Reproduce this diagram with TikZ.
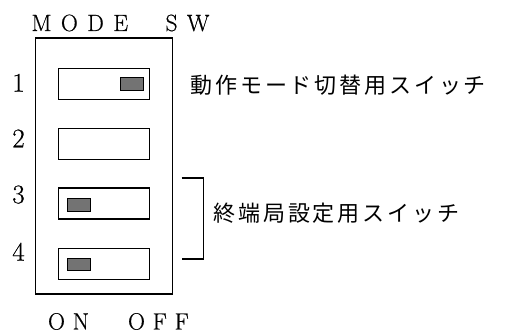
\documentclass[tikz,border=0pt]{standalone}
\usepackage{fontspec}
\newfontfamily\jpfont{Noto Sans CJK JP}[LetterSpace=13]
\newfontfamily\spacedA{Latin Modern Roman}[LetterSpace=40,FakeBold=0.6]
\newfontfamily\spacedB{Latin Modern Roman}[LetterSpace=33,FakeBold=0.6]
\newfontfamily\digitfont{Latin Modern Roman}[FakeBold=0.6]
\begin{document}
\begin{tikzpicture}[x=1pt,y=-1pt,
  line width=1.1pt,
  slot/.style={draw, rectangle, minimum width=91pt, minimum height=31pt, inner sep=0pt},
  knob/.style={draw, fill=black!55, rectangle, minimum width=23pt, minimum height=12.5pt, inner sep=0pt, line width=0.9pt},
  num/.style={font=\fontsize{27}{27}\digitfont, inner sep=0pt, anchor=base},
  jp/.style={font=\fontsize{22}{22}\jpfont, inner sep=0pt, anchor=west},
  latA/.style={font=\fontsize{23.5}{23.5}\spacedA, inner sep=0pt, anchor=base west},
  latB/.style={font=\fontsize{23.5}{23.5}\spacedB, inner sep=0pt, anchor=base west}]
\useasboundingbox (0,0) rectangle (512,334);
\node[draw, rectangle, minimum width=137pt, minimum height=256pt, inner sep=0pt] (box) at (104.3,166) {};
\node[slot] (s1) at (104,83.8) {};
\node[slot] (s2) at (104,143.8) {};
\node[slot] (s3) at (104,203.5) {};
\node[slot] (s4) at (104,264) {};
\node[knob] (k1) at (131.5,84) {};
\node[knob] (k3) at (78.7,205) {};
\node[knob] (k4) at (78.7,264.7) {};
\node[num] (n1) at (18.5,91.7) {1};
\node[num] (n2) at (18.5,147.3) {2};
\node[num] (n3) at (18.5,203.3) {3};
\node[num] (n4) at (18.5,260.7) {4};
\node[latA] (mode) at (31,31) {MODE};
\node[latA] (sw) at (165,31) {SW};
\node[latB] (on) at (47.5,329.5) {ON};
\node[latB] (off) at (127.5,329.5) {OFF};
\node[jp] (t1) at (190,85) {動作モード切替用スイッチ};
\node[jp] (t2) at (213,213) {終端局設定用スイッチ};
\coordinate (b1) at (181.7,178);
\coordinate (b2) at (181.7,259);
\draw (b1) -- (203.3,178) -- (203.3,259) -- (b2);
\end{tikzpicture}
\end{document}
